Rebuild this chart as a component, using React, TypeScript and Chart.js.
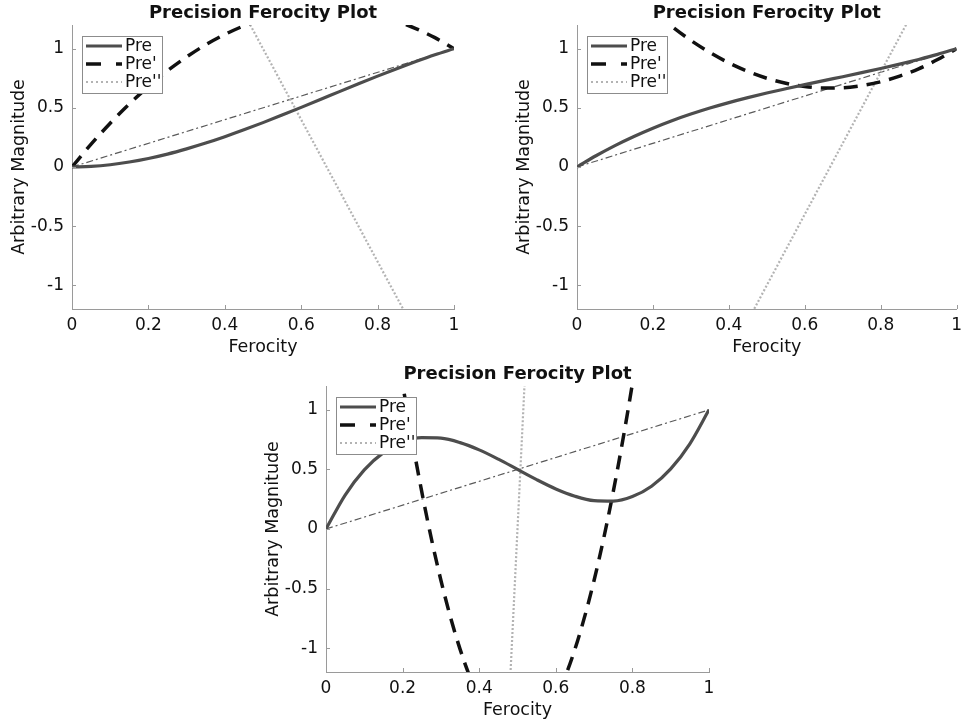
import React, { useEffect, useRef } from 'react';
import { Chart, registerables } from 'chart.js';

Chart.register(...registerables);
Chart.defaults.font.family = '"DejaVu Sans", sans-serif';

// Shared x samples (Ferocity)
const ferocity = [0, 0.05, 0.1, 0.15, 0.2, 0.25, 0.3, 0.35, 0.4, 0.45, 0.5, 0.55, 0.6, 0.65, 0.7, 0.75, 0.8, 0.85, 0.9, 0.95, 1];

// Panel A (top left)
const preA = [0, 0.005, 0.019, 0.042, 0.072, 0.109, 0.153, 0.202, 0.256, 0.314, 0.375, 0.439, 0.504, 0.57, 0.637, 0.703, 0.768, 0.831, 0.891, 0.948, 1];
const preA1 = [0, 0.193, 0.37, 0.533, 0.68, 0.813, 0.93, 1.033, 1.12, 1.193, 1.25, 1.293, 1.32, 1.333, 1.33, 1.313, 1.28, 1.233, 1.17, 1.093, 1];
const preA2 = [4, 3.7, 3.4, 3.1, 2.8, 2.5, 2.2, 1.9, 1.6, 1.3, 1.0, 0.7, 0.4, 0.1, -0.2, -0.5, -0.8, -1.1, -1.4, -1.7, -2];

// Panel B (top right)
const preB = [0, 0.095, 0.181, 0.258, 0.328, 0.391, 0.447, 0.498, 0.544, 0.586, 0.625, 0.661, 0.696, 0.73, 0.763, 0.797, 0.832, 0.869, 0.909, 0.952, 1];
const preB1 = [2, 1.808, 1.63, 1.468, 1.32, 1.188, 1.07, 0.968, 0.88, 0.808, 0.75, 0.708, 0.68, 0.668, 0.67, 0.688, 0.72, 0.768, 0.83, 0.908, 1];
const preB2 = [-4, -3.7, -3.4, -3.1, -2.8, -2.5, -2.2, -1.9, -1.6, -1.3, -1.0, -0.7, -0.4, -0.1, 0.2, 0.5, 0.8, 1.1, 1.4, 1.7, 2];

// Panel C (bottom)
const preC = [0, 0.285, 0.496, 0.641, 0.728, 0.766, 0.762, 0.725, 0.664, 0.586, 0.5, 0.414, 0.336, 0.275, 0.238, 0.234, 0.272, 0.359, 0.504, 0.715, 1];
const preC1 = [6.5, 4.933, 3.53, 2.293, 1.22, 0.313, -0.43, -1.008, -1.42, -1.668, -1.75, -1.668, -1.42, -1.008, -0.43, 0.313, 1.22, 2.293, 3.53, 4.933, 6.5];
const preC2 = [-33, -29.7, -26.4, -23.1, -19.8, -16.5, -13.2, -9.9, -6.6, -3.3, 0, 3.3, 6.6, 9.9, 13.2, 16.5, 19.8, 23.1, 26.4, 29.7, 33];

// Reference diagonal
const diagonalX = [0, 1];
const diagonalY = [0, 1];

const xTicks = [0, 0.2, 0.4, 0.6, 0.8, 1];
const yTicks = [-1, -0.5, 0, 0.5, 1];
const seriesNames = ['Pre', "Pre'", "Pre''"];
const plotTitle = 'Precision Ferocity Plot';
const xTitle = 'Ferocity';
const yTitle = 'Arbitrary Magnitude';

const AXIS_COLOR = '#9a9a9a';
const TEXT_COLOR = '#111';

type Frame = {
  left: number; top: number; width: number; height: number;
  area: { left: number; top: number; right: number; bottom: number };
};

const toPoints = (xs: number[], ys: number[]) => xs.map((x, i) => ({ x, y: ys[i] }));

// Legend samples use slightly wider dash spacing than the plotted lines
const legendDash: number[][] = [[], [15, 15], [2, 3]];

function Panel({ pre, d1, d2, frame }: { pre: number[]; d1: number[]; d2: number[]; frame: Frame }) {
  const ref = useRef<HTMLCanvasElement | null>(null);

  useEffect(() => {
    const canvas = ref.current;
    if (!canvas) return;
    const Y_AXIS_W = 72;
    const X_AXIS_H = 51;

    const decorations = {
      id: 'panelDecorations',
      afterDraw(chart: any) {
        const { ctx, chartArea } = chart;
        const xs = chart.scales.x;
        const ys = chart.scales.y;
        ctx.save();
        // inward tick marks
        ctx.strokeStyle = AXIS_COLOR;
        ctx.lineWidth = 1;
        ctx.setLineDash([]);
        ctx.beginPath();
        xTicks.forEach((v) => {
          const px = Math.round(xs.getPixelForValue(v)) + 0.5;
          ctx.moveTo(px, chartArea.bottom);
          ctx.lineTo(px, chartArea.bottom - 4);
        });
        yTicks.forEach((v) => {
          const py = Math.round(ys.getPixelForValue(v)) + 0.5;
          ctx.moveTo(chartArea.left, py);
          ctx.lineTo(chartArea.left + 4, py);
        });
        ctx.stroke();

        // title
        ctx.fillStyle = TEXT_COLOR;
        ctx.font = 'bold 18px "DejaVu Sans"';
        ctx.textAlign = 'center';
        ctx.textBaseline = 'alphabetic';
        ctx.fillText(plotTitle, (chartArea.left + chartArea.right) / 2, chartArea.top - 7);

        // legend box
        const lx = chartArea.left + 10;
        const ly = chartArea.top + 11;
        const lw = 80;
        const lh = 57;
        ctx.fillStyle = '#fff';
        ctx.fillRect(lx, ly, lw, lh);
        ctx.strokeStyle = '#8c8c8c';
        ctx.lineWidth = 1;
        ctx.strokeRect(lx + 0.5, ly + 0.5, lw, lh);
        chart.data.datasets.slice(0, 3).forEach((ds: any, i: number) => {
          const ry = ly + 10 + i * 18;
          ctx.save();
          ctx.strokeStyle = ds.borderColor;
          ctx.lineWidth = ds.borderWidth;
          ctx.setLineDash(legendDash[i]);
          ctx.beginPath();
          ctx.moveTo(lx + 4, ry);
          ctx.lineTo(lx + 40, ry);
          ctx.stroke();
          ctx.restore();
          ctx.fillStyle = TEXT_COLOR;
          ctx.font = '17px "DejaVu Sans"';
          ctx.textAlign = 'left';
          ctx.textBaseline = 'middle';
          ctx.fillText(ds.label, lx + 43, ry + 1);
        });
        ctx.restore();
      },
    };

    const chart = new Chart(canvas, {
      type: 'line',
      data: {
        datasets: [
          {
            label: seriesNames[0],
            data: toPoints(ferocity, pre),
            borderColor: '#4d4d4d',
            borderWidth: 3.2,
            pointRadius: 0,
            cubicInterpolationMode: 'monotone',
            order: 1,
          },
          {
            label: seriesNames[1],
            data: toPoints(ferocity, d1),
            borderColor: '#111',
            borderWidth: 3.5,
            borderDash: [14, 9],
            pointRadius: 0,
            cubicInterpolationMode: 'monotone',
            order: 2,
          },
          {
            label: seriesNames[2],
            data: toPoints(ferocity, d2),
            borderColor: '#b3b3b3',
            borderWidth: 2.2,
            borderDash: [2, 2],
            pointRadius: 0,
            tension: 0,
            order: 3,
          },
          {
            label: '',
            data: toPoints(diagonalX, diagonalY),
            borderColor: '#5a5a5a',
            borderWidth: 1.2,
            borderDash: [7, 3, 2, 3],
            pointRadius: 0,
            tension: 0,
            order: 4,
          },
        ],
      },
      options: {
        animation: false,
        responsive: false,
        events: [],
        layout: {
          autoPadding: false,
          padding: {
            left: frame.area.left - Y_AXIS_W,
            top: frame.area.top,
            right: frame.width - frame.area.right,
            bottom: frame.height - frame.area.bottom - X_AXIS_H,
          },
        },
        plugins: {
          legend: { display: false },
          title: { display: false },
          tooltip: { enabled: false },
        },
        scales: {
          x: {
            type: 'linear',
            min: 0,
            max: 1,
            afterBuildTicks: (s: any) => { s.ticks = xTicks.map((value) => ({ value })); },
            afterFit: (s: any) => { s.height = X_AXIS_H; },
            grid: { display: false, drawTicks: false },
            border: { display: true, color: AXIS_COLOR, width: 1 },
            ticks: {
              padding: 6,
              color: TEXT_COLOR,
              font: { size: 17 },
              maxRotation: 0,
              autoSkip: false,
              callback: (v: any) => String(v),
            },
            title: {
              display: true,
              text: xTitle,
              color: TEXT_COLOR,
              font: { size: 17.5 },
              padding: { top: 0, bottom: 2.5 },
            },
          },
          y: {
            type: 'linear',
            min: -1.2,
            max: 1.2,
            afterBuildTicks: (s: any) => { s.ticks = yTicks.map((value) => ({ value })); },
            afterFit: (s: any) => { s.width = Y_AXIS_W; },
            grid: { display: false, drawTicks: false },
            border: { display: true, color: AXIS_COLOR, width: 1 },
            ticks: {
              padding: 8,
              color: TEXT_COLOR,
              font: { size: 17 },
              callback: (v: any) => String(v),
            },
            title: {
              display: true,
              text: yTitle,
              color: TEXT_COLOR,
              font: { size: 17.5 },
              padding: { top: 8.5, bottom: 0 },
            },
          },
        },
      } as any,
      plugins: [decorations],
    });

    return () => chart.destroy();
  }, [pre, d1, d2, frame]);

  return (
    <canvas
      ref={ref}
      width={frame.width}
      height={frame.height}
      style={{ position: 'absolute', left: frame.left, top: frame.top, width: frame.width, height: frame.height }}
    />
  );
}

const frameA: Frame = { left: 0, top: 0, width: 470, height: 360, area: { left: 72, top: 25, right: 454, bottom: 309 } };
const frameB: Frame = { left: 505, top: 0, width: 463, height: 360, area: { left: 72, top: 25, right: 458, bottom: 309 } };
const frameC: Frame = { left: 254, top: 360, width: 470, height: 363, area: { left: 72, top: 26, right: 455, bottom: 312 } };

export default function App() {
  return (
    <div style={{ position: 'absolute', left: 0, top: 0, width: 968, height: 727, background: '#fff', overflow: 'hidden' }}>
      <Panel pre={preA} d1={preA1} d2={preA2} frame={frameA} />
      <Panel pre={preB} d1={preB1} d2={preB2} frame={frameB} />
      <Panel pre={preC} d1={preC1} d2={preC2} frame={frameC} />
    </div>
  );
}
